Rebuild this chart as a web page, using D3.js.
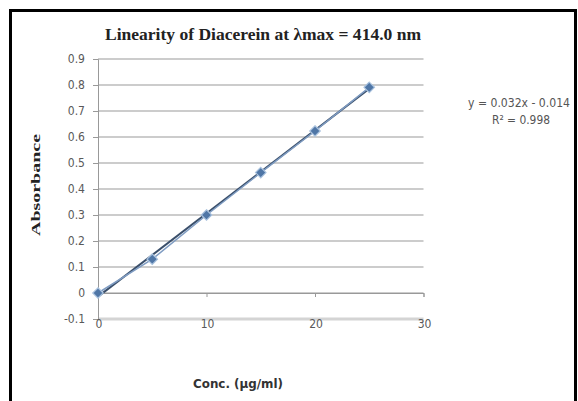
<!DOCTYPE html>
<html>
<head>
<meta charset="utf-8">
<script src="https://cdn.jsdelivr.net/npm/d3@7"></script>
<style>
  body { margin: 0; background: #fff; }
  svg { display: block; }
</style>
</head>
<body>
<div id="chart"></div>
<script>
// data
var conc = [0, 5, 10, 15, 20, 25];
var absorbance = [0, 0.13, 0.30, 0.463, 0.623, 0.791];
var xTicks = [0, 10, 20, 30];
var yTicks = [-0.1, 0, 0.1, 0.2, 0.3, 0.4, 0.5, 0.6, 0.7, 0.8, 0.9];
var slope = 0.032, intercept = -0.014;

var W = 578, H = 401;
var svg = d3.select("#chart").append("svg")
  .attr("width", W).attr("height", H);

// outer frame
svg.append("rect").attr("x", 10.5).attr("y", 10.5)
  .attr("width", 565).attr("height", 400)
  .attr("fill", "none").attr("stroke", "#000").attr("stroke-width", 3);

var x = d3.scaleLinear().domain([0, 30]).range([98, 423.5]);
var y = d3.scaleLinear().domain([-0.1, 0.9]).range([319, 59]);

var tickFont = "'Liberation Sans Narrow', 'DejaVu Sans Condensed', sans-serif";
var fmt = function(d) { return String(+d.toFixed(1)); };

// gridlines
svg.append("g").selectAll("line").data(yTicks).enter().append("line")
  .attr("x1", x(0)).attr("x2", x(30))
  .attr("y1", function(d) { return y(d); }).attr("y2", function(d) { return y(d); })
  .attr("stroke", function(d) { return d === -0.1 ? "#d4d4d4" : "#999"; })
  .attr("stroke-width", function(d) { return d === -0.1 ? 3 : 1; });

// y axis
var yAxis = svg.append("g").attr("transform", "translate(" + x(0) + ",0)")
  .call(d3.axisLeft(y).tickValues(yTicks).tickSize(5).tickFormat(fmt));
yAxis.select(".domain").attr("stroke", "#999");
yAxis.selectAll(".tick line").attr("stroke", "#999");
yAxis.selectAll("text").attr("fill", "#595959").attr("font-size", 12)
  .attr("font-family", tickFont).attr("x", -13);

// x axis line at zero with small ticks
var xAxis0 = svg.append("g").attr("transform", "translate(0," + y(0) + ")")
  .call(d3.axisBottom(x).tickValues(xTicks).tickSize(4).tickFormat(""));
xAxis0.select(".domain").attr("stroke", "#999");
xAxis0.selectAll(".tick line").attr("stroke", "#999");

// x tick labels, sitting on the bottom gridline
svg.append("g").selectAll("text").data(xTicks).enter().append("text")
  .attr("x", function(d) { return x(d) + 1; }).attr("y", 328)
  .attr("text-anchor", "middle")
  .attr("fill", "#595959").attr("font-size", 12).attr("font-family", tickFont)
  .text(function(d) { return d; });

// trendline
svg.append("line")
  .attr("x1", x(0)).attr("y1", y(intercept))
  .attr("x2", x(25)).attr("y2", y(slope * 25 + intercept))
  .attr("stroke", "#3a4f6b").attr("stroke-width", 2);

// series line
var pts = conc.map(function(c, i) { return [c, absorbance[i]]; });
svg.append("path").datum(pts)
  .attr("fill", "none").attr("stroke", "#7f9cc2").attr("stroke-width", 1.5)
  .attr("d", d3.line().x(function(d) { return x(d[0]); }).y(function(d) { return y(d[1]); }));

// diamond markers
svg.append("g").selectAll("path").data(pts).enter().append("path")
  .attr("transform", function(d) { return "translate(" + x(d[0]) + "," + y(d[1]) + ")"; })
  .attr("d", d3.symbol().type(d3.symbolDiamond2).size(70))
  .attr("fill", "#4f76a6").attr("stroke", "#a9c2de").attr("stroke-width", 1.2);

// title
svg.append("text").attr("x", 263).attr("y", 40).attr("text-anchor", "middle")
  .attr("font-family", "'Liberation Serif', 'DejaVu Serif', serif")
  .attr("font-weight", "bold").attr("font-size", 17).attr("fill", "#222")
  .attr("textLength", 316).attr("lengthAdjust", "spacingAndGlyphs")
  .text("Linearity of Diacerein at \u03bbmax = 414.0 nm");

// y axis title
svg.append("text").attr("transform", "translate(40,185) rotate(-90)")
  .attr("text-anchor", "middle")
  .attr("font-family", "'Liberation Serif', 'DejaVu Serif', serif")
  .attr("font-weight", "bold").attr("font-size", 13).attr("fill", "#222")
  .attr("textLength", 102).attr("lengthAdjust", "spacingAndGlyphs")
  .text("Absorbance");

// x axis title
svg.append("text").attr("x", 238).attr("y", 388).attr("text-anchor", "middle")
  .attr("font-family", tickFont).attr("font-weight", "bold")
  .attr("font-size", 13).attr("fill", "#333")
  .attr("textLength", 90).attr("lengthAdjust", "spacingAndGlyphs")
  .text("Conc. (\u00b5g/ml)");

// equation
svg.append("text").attr("x", 468).attr("y", 107)
  .attr("font-family", tickFont).attr("font-size", 12).attr("fill", "#555")
  .attr("textLength", 102).attr("lengthAdjust", "spacingAndGlyphs")
  .text("y = 0.032x - 0.014");
svg.append("text").attr("x", 492).attr("y", 124)
  .attr("font-family", tickFont).attr("font-size", 12).attr("fill", "#555")
  .attr("textLength", 58).attr("lengthAdjust", "spacingAndGlyphs")
  .text("R\u00b2 = 0.998");
</script>
</body>
</html>
